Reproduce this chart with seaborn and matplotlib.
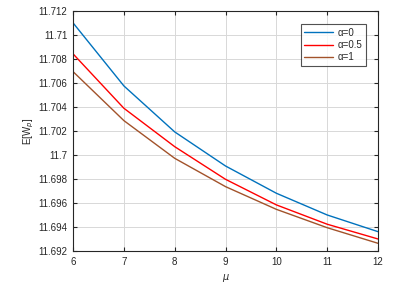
import numpy as np
import pandas as pd
import matplotlib
matplotlib.use("Agg")
import matplotlib.pyplot as plt
import seaborn as sns

mu = [6, 7, 8, 9, 10, 11, 12]
ew_alpha0 = [11.7110, 11.70575, 11.70192, 11.69908, 11.69681, 11.69500, 11.69361]
ew_alpha05 = [11.70842, 11.70389, 11.70069, 11.69797, 11.69584, 11.69423, 11.69300]
ew_alpha1 = [11.70694, 11.70286, 11.69972, 11.69736, 11.69547, 11.69394, 11.69264]
labels = ["\u03b1=0", "\u03b1=0.5", "\u03b1=1"]
colors = ["#0072BD", "#FF0000", "#A2522A"]

df = pd.concat([
    pd.DataFrame({"mu": mu, "ew": ew_alpha0, "alpha": labels[0]}),
    pd.DataFrame({"mu": mu, "ew": ew_alpha05, "alpha": labels[1]}),
    pd.DataFrame({"mu": mu, "ew": ew_alpha1, "alpha": labels[2]}),
], ignore_index=True)

sns.set_style("whitegrid")
plt.rcParams["font.family"] = ["Liberation Sans", "DejaVu Sans"]

fig = plt.figure(figsize=(3.95, 2.91), dpi=100)
ax = fig.add_axes([0.185, 0.1375, 0.772, 0.825])

sns.lineplot(data=df, x="mu", y="ew", hue="alpha", palette=colors,
             linewidth=1.0, ax=ax)

ax.set_xlim(6, 12)
ax.set_ylim(11.692, 11.712)
ax.set_xticks(mu)
yt = np.arange(11.692, 11.7121, 0.002)
ax.set_yticks(yt)
ax.set_yticklabels([f"{v:.3f}".rstrip("0").rstrip(".") for v in yt])
ax.tick_params(axis="both", direction="in", labelsize=7, length=3,
               top=True, right=True, bottom=True, left=True, color="#262626",
               pad=4)
ax.grid(True, color="#D8D8D8", linewidth=0.7)
for s in ax.spines.values():
    s.set_color("#262626")
    s.set_linewidth(0.8)

ax.set_xlabel("$\\mu$", fontsize=7, labelpad=4)
ax.set_ylabel("E[W$_p$]", fontsize=7, labelpad=2)

leg = ax.legend(loc="upper right", fontsize=7, frameon=True, fancybox=False,
                handlelength=3, borderpad=0.35, labelspacing=0.25,
                handletextpad=0.4, bbox_to_anchor=(0.975, 0.965))
leg.get_frame().set_edgecolor("#262626")
leg.get_frame().set_linewidth(0.8)
leg.set_title(None)

fig.savefig("out.png", dpi=100)
